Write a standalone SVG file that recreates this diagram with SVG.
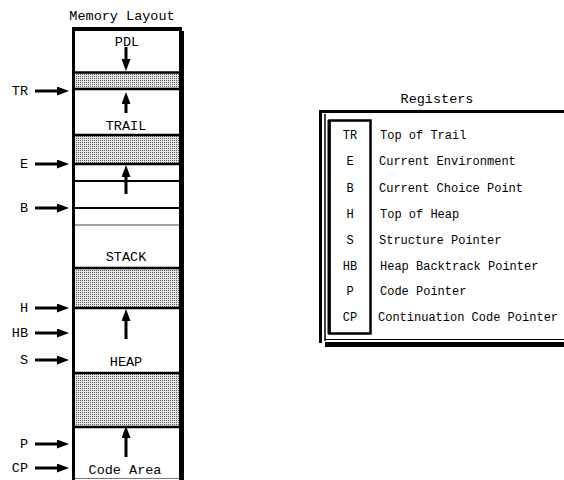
<svg xmlns="http://www.w3.org/2000/svg" width="564" height="480" viewBox="0 0 564 480">
<defs>
<pattern id="stip" width="2" height="2" patternUnits="userSpaceOnUse">
<rect width="2" height="2" fill="#e6e6e6"/>
<rect width="1" height="1" fill="#5a5a5a"/>
</pattern>
<marker id="ah" markerWidth="4" markerHeight="3" refX="0" refY="1.5" orient="auto" markerUnits="strokeWidth">
<path d="M0,0 L4,1.5 L0,3 z" fill="#000"/>
</marker>
</defs>
<style>
.big{font-family:"Liberation Mono","DejaVu Sans Mono",monospace;font-size:13.5px;fill:#000}
.sm{font-family:"Liberation Mono","DejaVu Sans Mono",monospace;font-size:12px;fill:#000}
.sep{stroke:#000;stroke-width:2.5}
.thin{stroke:#000;stroke-width:2}
.arr{stroke:#000;stroke-width:3;fill:none}
.gray{fill:url(#stip)}
</style>
<rect width="564" height="480" fill="#fff"/>

<text class="big" x="122" y="20" text-anchor="middle">Memory Layout</text>

<g id="memory">
<rect class="gray" x="75" y="73" width="105" height="15"/>
<rect class="gray" x="75" y="136" width="105" height="27"/>
<rect class="gray" x="75" y="269" width="105" height="38"/>
<rect class="gray" x="75" y="374" width="105" height="52"/>
<line class="sep" x1="74" y1="72.5" x2="181" y2="72.5"/>
<line class="sep" x1="74" y1="89" x2="181" y2="89"/>
<line class="sep" x1="74" y1="135" x2="181" y2="135"/>
<line class="sep" x1="74" y1="164" x2="181" y2="164"/>
<line class="thin" x1="74" y1="181" x2="181" y2="181"/>
<line class="thin" x1="74" y1="208" x2="181" y2="208"/>
<line x1="74" y1="225" x2="181" y2="225" stroke="#444" stroke-width="1"/>
<line class="sep" x1="74" y1="268" x2="181" y2="268"/>
<line class="sep" x1="74" y1="308" x2="181" y2="308"/>
<line class="sep" x1="74" y1="373" x2="181" y2="373"/>
<line class="sep" x1="74" y1="427" x2="181" y2="427"/>
<line x1="74" y1="478.5" x2="181" y2="478.5" stroke="#777" stroke-width="1"/>
<rect x="73.5" y="29.5" width="107" height="460" fill="none" stroke="#000" stroke-width="3"/>
<rect x="180" y="31" width="4" height="449" fill="#000"/>
<rect x="72" y="27" width="110" height="3" fill="#000"/>
</g>

<g id="mem-labels">
<text class="big" x="127" y="45.5" text-anchor="middle">PDL</text>
<text class="big" x="126" y="129.5" text-anchor="middle">TRAIL</text>
<text class="big" x="126" y="261" text-anchor="middle">STACK</text>
<text class="big" x="126" y="366" text-anchor="middle">HEAP</text>
<text class="big" x="125" y="473.5" text-anchor="middle">Code Area</text>
</g>

<g id="inner-arrows">
<line class="arr" x1="126" y1="47" x2="126" y2="59" marker-end="url(#ah)"/>
<line class="arr" x1="126" y1="113" x2="126" y2="104" marker-end="url(#ah)"/>
<line class="arr" x1="126" y1="194" x2="126" y2="177" marker-end="url(#ah)"/>
<line class="arr" x1="126" y1="339" x2="126" y2="321" marker-end="url(#ah)"/>
<line class="arr" x1="126" y1="457" x2="126" y2="438" marker-end="url(#ah)"/>
</g>

<g id="pointers">
<text class="big" x="28" y="95" text-anchor="end">TR</text>
<text class="big" x="28" y="168" text-anchor="end">E</text>
<text class="big" x="28" y="212" text-anchor="end">B</text>
<text class="big" x="28" y="312" text-anchor="end">H</text>
<text class="big" x="28" y="337" text-anchor="end">HB</text>
<text class="big" x="28" y="364" text-anchor="end">S</text>
<text class="big" x="28" y="448" text-anchor="end">P</text>
<text class="big" x="28" y="472" text-anchor="end">CP</text>
</g>

<g id="connectors">
<line class="arr" x1="35" y1="91" x2="57" y2="91" marker-end="url(#ah)"/>
<line class="arr" x1="35" y1="164" x2="57" y2="164" marker-end="url(#ah)"/>
<line class="arr" x1="35" y1="208" x2="57" y2="208" marker-end="url(#ah)"/>
<line class="arr" x1="35" y1="308" x2="57" y2="308" marker-end="url(#ah)"/>
<line class="arr" x1="35" y1="333" x2="57" y2="333" marker-end="url(#ah)"/>
<line class="arr" x1="35" y1="360" x2="57" y2="360" marker-end="url(#ah)"/>
<line class="arr" x1="35" y1="444" x2="57" y2="444" marker-end="url(#ah)"/>
<line class="arr" x1="35" y1="468" x2="57" y2="468" marker-end="url(#ah)"/>
</g>

<text class="big" x="437" y="103" text-anchor="middle">Registers</text>

<g id="registers">
<rect x="319" y="110" width="250" height="3" fill="#000"/>
<rect x="319" y="110" width="3" height="233" fill="#000"/>
<line x1="325" y1="114" x2="325" y2="341" stroke="#000" stroke-width="1.5"/>
<line x1="325" y1="339.5" x2="570" y2="339.5" stroke="#000" stroke-width="1"/>
<rect x="325" y="342" width="245" height="5" fill="#000"/>
<rect x="329.5" y="120.5" width="41" height="213" fill="none" stroke="#000" stroke-width="2.5"/>
<line x1="329" y1="120" x2="329" y2="334" stroke="#000" stroke-width="3"/>
<g class="sm" text-anchor="middle">
<text x="350" y="139">TR</text>
<text x="350" y="165">E</text>
<text x="350" y="192">B</text>
<text x="350" y="218">H</text>
<text x="350" y="244">S</text>
<text x="350" y="270">HB</text>
<text x="350" y="295">P</text>
<text x="350" y="321">CP</text>
</g>
<g class="sm">
<text x="380" y="139">Top of Trail</text>
<text x="379" y="165">Current Environment</text>
<text x="379" y="192">Current Choice Point</text>
<text x="380" y="218">Top of Heap</text>
<text x="379" y="244">Structure Pointer</text>
<text x="380" y="270">Heap Backtrack Pointer</text>
<text x="380" y="295">Code Pointer</text>
<text x="378" y="321">Continuation Code Pointer</text>
</g>
</g>
</svg>
